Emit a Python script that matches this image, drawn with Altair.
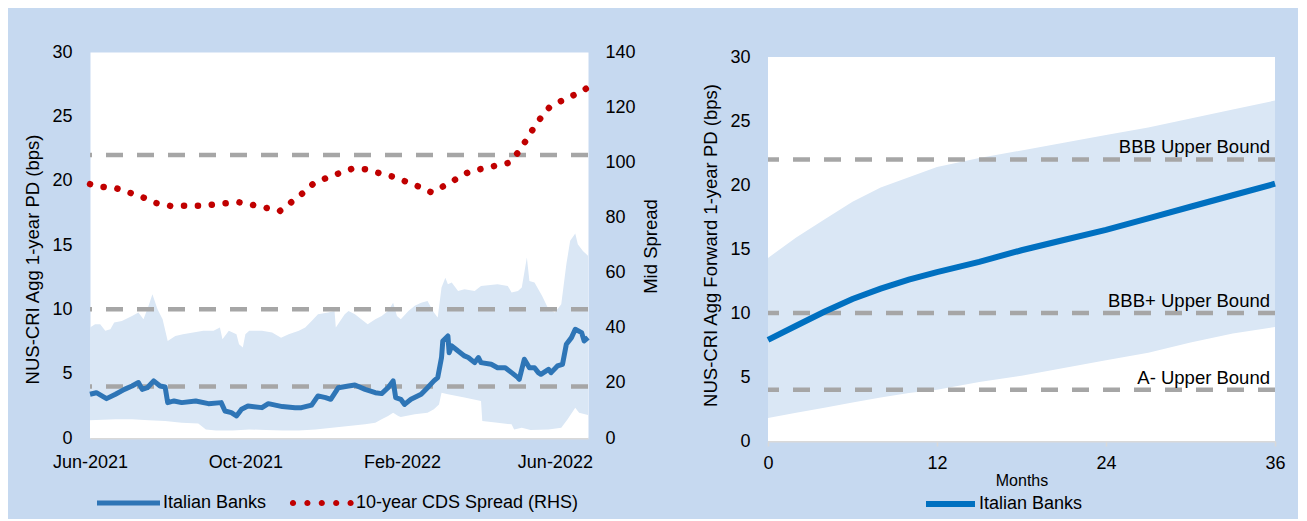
import altair as alt
import pandas as pd

FONT = "Liberation Sans"
BG = "#c6d9f0"
BAND = "#dae7f5"
DASH_GREY = "#a6a6a6"
BLUE_L = "#2e75b6"
BLUE_R = "#0070c0"
RED = "#c00000"

# ---------------- left panel data ----------------
pd_dates = ["2021-06-01","2021-06-06","2021-06-14","2021-06-21","2021-06-28","2021-07-04","2021-07-09","2021-07-12",
            "2021-07-16","2021-07-21","2021-07-26","2021-07-30","2021-08-01","2021-08-06","2021-08-12","2021-08-23",
            "2021-09-02","2021-09-12","2021-09-15","2021-09-20","2021-09-24","2021-09-28","2021-10-03","2021-10-14",
            "2021-10-19","2021-10-30","2021-11-09","2021-11-14","2021-11-22","2021-11-27","2021-12-03","2021-12-07",
            "2021-12-13","2021-12-21","2021-12-26","2022-01-03","2022-01-11","2022-01-16","2022-01-21","2022-01-25",
            "2022-01-27","2022-01-31","2022-02-03","2022-02-08","2022-02-16","2022-02-21","2022-02-26","2022-03-01",
            "2022-03-04","2022-03-05","2022-03-09","2022-03-10","2022-03-12","2022-03-17","2022-03-22","2022-03-25",
            "2022-03-30","2022-04-02","2022-04-04","2022-04-12","2022-04-17","2022-04-23","2022-04-28","2022-05-03",
            "2022-05-04","2022-05-08","2022-05-12","2022-05-16","2022-05-19","2022-05-21","2022-05-27","2022-05-29",
            "2022-06-03","2022-06-07","2022-06-10","2022-06-14","2022-06-17","2022-06-22","2022-06-24","2022-06-27"]
pd_values = [3.40,3.52,3.06,3.40,3.78,4.04,4.31,3.78,
             3.91,4.44,4.04,3.96,2.75,2.88,2.75,2.88,
             2.67,2.75,2.10,1.97,1.71,2.23,2.48,2.36,
             2.67,2.44,2.36,2.36,2.56,3.27,3.14,3.01,
             3.91,4.04,4.12,3.78,3.52,3.45,3.91,4.44,
             3.14,3.01,2.61,3.01,3.40,3.91,4.44,4.69,
             6.25,7.54,7.93,6.63,7.16,6.76,6.38,6.25,
             5.86,6.25,5.86,5.73,5.46,5.46,5.08,4.69,
             4.56,6.12,5.46,5.46,5.08,4.95,5.34,5.08,
             5.60,5.73,7.29,7.80,8.45,8.19,7.54,7.80]

upper_dates = ["2021-06-01","2021-06-05","2021-06-09","2021-06-13","2021-06-17","2021-06-20","2021-06-26","2021-07-04",
               "2021-07-09","2021-07-13","2021-07-17","2021-07-20","2021-07-24","2021-07-28","2021-08-01","2021-08-07",
               "2021-08-13","2021-08-21","2021-08-29","2021-09-06","2021-09-11","2021-09-13","2021-09-18","2021-09-24",
               "2021-09-26","2021-09-29","2021-10-01","2021-10-04","2021-10-14","2021-10-22","2021-10-29","2021-11-04",
               "2021-11-12","2021-11-17","2021-11-22","2021-11-27","2021-12-05","2021-12-10","2021-12-11","2021-12-18",
               "2021-12-21","2021-12-26","2021-12-31","2022-01-05","2022-01-11","2022-01-16","2022-01-21","2022-01-25",
               "2022-01-28","2022-01-31","2022-02-06","2022-02-11","2022-02-16","2022-02-21","2022-02-26","2022-03-01",
               "2022-03-04","2022-03-07","2022-03-09","2022-03-12","2022-03-17","2022-03-22","2022-03-30","2022-04-04",
               "2022-04-17","2022-04-25","2022-04-28","2022-05-03","2022-05-06","2022-05-10","2022-05-12","2022-05-16",
               "2022-05-22","2022-05-27","2022-06-01","2022-06-06","2022-06-10","2022-06-13","2022-06-17","2022-06-19",
               "2022-06-23","2022-06-27"]
upper_values = [8.58,8.84,8.84,8.33,8.45,8.97,9.10,9.48,
                9.75,9.23,10.27,11.18,10.01,9.23,7.54,7.93,
                8.06,8.19,8.33,8.33,8.58,7.67,8.33,8.06,
                7.29,7.03,8.06,8.33,8.33,8.19,7.80,8.06,
                8.33,8.58,9.10,9.61,9.75,9.88,8.58,9.61,
                9.88,9.61,9.23,8.84,9.23,9.48,9.88,10.52,
                9.48,9.23,9.88,10.27,10.52,10.65,9.75,9.36,
                11.69,12.46,11.95,12.08,11.43,11.56,11.43,11.82,
                11.95,11.82,11.30,11.43,11.69,14.02,12.21,12.08,
                11.04,10.01,9.75,10.40,13.50,15.33,15.90,15.05,
                14.54,14.16]

lower_dates = ["2021-06-01","2021-06-21","2021-07-04","2021-07-17","2021-07-30","2021-08-12","2021-08-25","2021-08-31",
               "2021-09-08","2021-09-21","2021-10-04","2021-10-17","2021-10-30","2021-11-12","2021-11-25","2021-12-08",
               "2021-12-21","2022-01-03","2022-01-11","2022-01-16","2022-01-21","2022-01-25","2022-01-29","2022-01-31",
               "2022-02-11","2022-02-21","2022-02-26","2022-03-02","2022-03-04","2022-03-09","2022-03-22","2022-04-04",
               "2022-04-05","2022-04-17","2022-04-28","2022-04-30","2022-05-06","2022-05-13","2022-05-27","2022-06-06",
               "2022-06-11","2022-06-17","2022-06-20","2022-06-27"]
lower_values = [1.38,1.46,1.46,1.38,1.33,1.19,1.12,0.67,
                0.59,0.59,0.67,0.62,0.59,0.59,0.67,0.80,
                0.93,1.06,1.19,1.46,1.71,1.97,1.71,1.63,
                1.84,1.97,2.23,2.61,3.52,3.40,3.14,2.88,
                1.33,1.19,1.06,0.67,0.80,0.62,0.67,0.80,
                1.46,2.36,1.97,1.79]

cds_dates = ["2021-06-01","2021-06-11","2021-06-22","2021-07-02","2021-07-13","2021-07-23","2021-08-03","2021-08-14",
             "2021-08-25","2021-09-04","2021-09-15","2021-09-26","2021-10-07","2021-10-18","2021-10-28","2021-11-06",
             "2021-11-15","2021-11-23","2021-12-03","2021-12-13","2021-12-24","2022-01-03","2022-01-14","2022-01-24",
             "2022-02-04","2022-02-14","2022-02-24","2022-03-05","2022-03-15","2022-03-25","2022-04-04","2022-04-15",
             "2022-04-26","2022-05-03","2022-05-09","2022-05-15","2022-05-21","2022-05-28","2022-06-07","2022-06-17",
             "2022-06-27"]
cds_values = [92.1,91.1,90.5,89.0,87.2,85.2,84.2,84.2,
              84.2,84.6,85.1,85.5,84.5,83.4,82.3,85.5,
              88.8,92.1,94.2,95.9,97.7,97.5,96.1,94.9,
              93.0,91.2,89.1,91.2,93.8,96.4,97.6,98.7,
              99.8,103.5,107.7,112.2,116.2,120.1,122.5,124.6,
              127.1]

bound_levels = [4, 10, 22]
bound_labels = ["A- Upper Bound", "BBB+ Upper Bound", "BBB Upper Bound"]

left_series = ["Italian Banks", "10-year CDS Spread (RHS)"]
left_y_ticks = [0, 5, 10, 15, 20, 25, 30]
rhs_ticks = [0, 20, 40, 60, 80, 100, 120, 140]

# ---------------- right panel data ----------------
fwd_months = [0, 2, 4, 6, 8, 10, 12, 15, 18, 21, 24, 27, 30, 33, 36]
fwd_pd = [7.9, 9.0, 10.1, 11.1, 11.9, 12.6, 13.2, 14.0, 14.9, 15.7, 16.5, 17.4, 18.3, 19.2, 20.1]
fwd_upper = [14.3, 15.9, 17.3, 18.7, 19.8, 20.6, 21.4, 22.1, 22.7, 23.3, 23.9, 24.5, 25.2, 25.9, 26.6]
fwd_lower = [1.8, 2.2, 2.6, 3.0, 3.4, 3.75, 4.0, 4.6, 5.1, 5.7, 6.3, 6.9, 7.7, 8.4, 8.9]
month_ticks = [0, 12, 24, 36]

# ---------------- tables ----------------
df_pd = pd.DataFrame({"date": pd_dates, "v": pd_values})
df_up = pd.DataFrame({"date": upper_dates, "v": upper_values})
df_lo = pd.DataFrame({"date": lower_dates, "v": lower_values})
df_cds = pd.DataFrame({"date": cds_dates, "v": cds_values})
df_bounds = pd.DataFrame({"v": bound_levels, "t": bound_labels})
df_leg = pd.DataFrame({"series": left_series})
df_fwd = pd.DataFrame({"m": fwd_months, "pd": fwd_pd, "hi": fwd_upper, "lo": fwd_lower,
                       "s": ["Italian Banks"] * len(fwd_months)})

# ---------------- layout ----------------
LEFT_W, LEFT_H = 498, 386
RIGHT_W, RIGHT_PLOT_H, RIGHT_DROP = 507, 384, 5     # right plot sits 5 px lower than the left one
RIGHT_H = RIGHT_PLOT_H + RIGHT_DROP
RIGHT_YMAX = 30 * RIGHT_H / RIGHT_PLOT_H

def dt(y, m, d):
    return alt.DateTime(year=y, month=m, date=d, utc=True)

left_x = alt.X(
    "date:T",
    scale=alt.Scale(type="utc", domain=[dt(2021, 6, 1), dt(2022, 6, 27)]),
    axis=alt.Axis(values=[dt(2021, 6, 1), dt(2021, 10, 1), dt(2022, 2, 1), dt(2022, 6, 1)],
                  format="%b-%Y", title=None, labelFlush=False, labelOverlap=False,
                  domain=True, domainColor="#d9d9d9", domainWidth=2,
                  ticks=False, tickSize=0, labelPadding=15, labelAlign="center"),
)
left_y_scale = alt.Scale(domain=[0, 30], nice=False)
left_y_axis = alt.Axis(values=left_y_ticks, title="NUS-CRI Agg 1-year PD (bps)",
                       labelPadding=18, ticks=False, tickSize=0, domain=False,
                       titleAngle=270, titleX=-58, titleY=207, titleBaseline="middle", titleAlign="center")
rhs_axis = alt.Axis(orient="right", values=rhs_ticks, title="Mid Spread",
                    labelPadding=17, ticks=False, tickSize=0, domain=False,
                    titleAngle=270, titleX=62, titleY=194, titleBaseline="middle", titleAlign="center")

def ly(field):
    return alt.Y(field, scale=left_y_scale, axis=left_y_axis)

band_up = alt.Chart(df_up).mark_area(color=BAND).encode(x=left_x, y=ly("v:Q"))
band_lo = alt.Chart(df_lo).mark_area(color="white").encode(x=left_x, y=ly("v:Q"))
rules_l = alt.Chart(df_bounds).mark_rule(color=DASH_GREY, strokeWidth=4.5, strokeDash=[17, 14]).encode(y=ly("v:Q"))
line_pd = alt.Chart(df_pd).mark_line(color=BLUE_L, strokeWidth=5, strokeJoin="round").encode(x=left_x, y=ly("v:Q"))

# legend symbol shapes (unit r = 8 px; drawn long, starting at the entry's left edge)
U = 8.0
def px(v):
    return v / U
sym_left = -U
bar_path = (f"M{px(sym_left):.4f},{px(-2.6):.4f} H{px(sym_left + 63):.4f} "
            f"V{px(2.6):.4f} H{px(sym_left):.4f} Z")
dot_r = 3.1
dot_centres = [sym_left + 3 + i * 14.4 for i in range(5)]
dots_path = " ".join(
    f"M{px(c - dot_r):.4f},0 a{px(dot_r):.4f},{px(dot_r):.4f} 0 1,0 {px(2 * dot_r):.4f},0 "
    f"a{px(dot_r):.4f},{px(dot_r):.4f} 0 1,0 {px(-2 * dot_r):.4f},0"
    for c in dot_centres
)

left_legend = alt.Legend(title=None, orient="none", legendX=6, legendY=442, direction="horizontal",
                         symbolSize=U * U * 4, symbolStrokeWidth=0, symbolOpacity=1,
                         labelFontSize=18, labelFont=FONT, labelColor="#000", labelOffset=49,
                         columnPadding=22, padding=0, labelLimit=400)
legend_pts = alt.Chart(df_leg).mark_point(filled=True, opacity=1).encode(
    color=alt.Color("series:N", scale=alt.Scale(domain=left_series, range=[BLUE_L, RED]), legend=left_legend),
    shape=alt.Shape("series:N", scale=alt.Scale(domain=left_series, range=[bar_path, dots_path]), legend=left_legend),
).transform_filter("false")

line_cds = alt.Chart(df_cds).mark_line(color=RED, strokeWidth=6.5, strokeCap="round", strokeDash=[0.1, 13.8]).encode(
    x=left_x, y=alt.Y("v:Q", scale=alt.Scale(domain=[0, 140], nice=False), axis=rhs_axis)
)

left_main = alt.layer(band_up, band_lo, rules_l, line_pd, legend_pts)
left = (
    alt.layer(left_main, line_cds)
    .resolve_scale(y="independent")
    .properties(width=LEFT_W, height=LEFT_H, view=alt.ViewBackground(fill="white", stroke="transparent"))
)

# ---------------- right panel ----------------
right_x = alt.X("m:Q", scale=alt.Scale(domain=[0, 36], nice=False),
                axis=alt.Axis(values=month_ticks, title="Months", titleFontSize=16, titlePadding=0,
                              labelFlush=False, labelOverlap=False, domain=True, domainColor="#d9d9d9",
                              domainWidth=2, ticks=True, tickSize=5, tickColor="#d9d9d9", tickWidth=1.5,
                              labelPadding=8))
right_y_axis = alt.Axis(values=left_y_ticks, title="NUS-CRI Agg Forward 1-year PD (bps)",
                        labelPadding=18, ticks=False, tickSize=0, domain=False,
                        titleAngle=270, titleX=-58, titleY=193, titleBaseline="middle", titleAlign="center")
right_y_scale = alt.Scale(domain=[0, RIGHT_YMAX], nice=False)

def ry(field):
    return alt.Y(field, scale=right_y_scale, axis=right_y_axis)

plot_bg = alt.Chart().mark_rect(color="white").encode(
    x=alt.datum(0), x2=alt.datum(36), y=alt.datum(0), y2=alt.datum(30)
)
band_r = alt.Chart(df_fwd).mark_area(color=BAND).encode(x=right_x, y=ry("lo:Q"), y2="hi:Q")
rules_r = alt.Chart(df_bounds).mark_rule(color=DASH_GREY, strokeWidth=4.5, strokeDash=[17, 14]).encode(y=ry("v:Q"))
text_r = alt.Chart(df_bounds).transform_calculate(m="36").mark_text(
    align="right", baseline="alphabetic", dx=-5, dy=-6, fontSize=18.5, font=FONT, color="#000"
).encode(x=right_x, y=ry("v:Q"), text="t:N")

line_sym = f"M{px(sym_left):.4f},0 H{px(sym_left + 49):.4f}"
right_legend = alt.Legend(title=None, orient="none", legendX=155, legendY=441, direction="horizontal",
                          symbolType=line_sym, symbolSize=U * U * 4, symbolStrokeWidth=6,
                          labelFontSize=18, labelFont=FONT, labelColor="#000", labelOffset=34, padding=0)
line_r = alt.Chart(df_fwd).mark_line(strokeWidth=6).encode(
    x=right_x, y=ry("pd:Q"),
    color=alt.Color("s:N", scale=alt.Scale(domain=["Italian Banks"], range=[BLUE_R]), legend=right_legend),
)
right = alt.layer(plot_bg, band_r, rules_r, text_r, line_r).properties(
    width=RIGHT_W, height=RIGHT_H, view=alt.ViewBackground(fill=BG, stroke="transparent")
)

chart = (
    alt.hconcat(left, right, spacing=40)
    .resolve_scale(color="independent", shape="independent")
    .resolve_legend(color="independent", shape="independent")
    .properties(background=BG, padding={"left": 14, "top": 34, "right": 10, "bottom": 2})
    .configure(font=FONT)
    .configure_view(stroke="transparent")
    .configure_axis(labelFont=FONT, titleFont=FONT, labelFontSize=18, titleFontSize=18.5,
                    labelColor="#000", titleColor="#000", titleFontWeight="normal", grid=False)
)

chart.save("out.html", embed_options={"renderer": "svg", "actions": False})
